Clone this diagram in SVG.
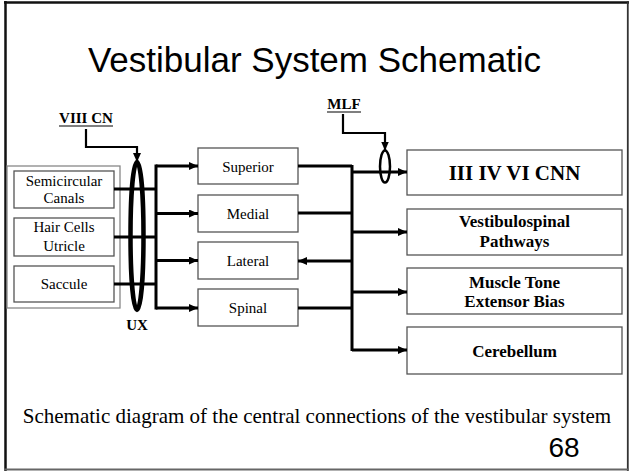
<svg xmlns="http://www.w3.org/2000/svg" width="629" height="471" viewBox="0 0 629 471">
<style>
.box{fill:#fff;stroke:#555;stroke-width:1.3}
.t{font-family:"Liberation Serif","Times New Roman",serif;font-size:15px;text-anchor:middle;fill:#000}
.b{font-family:"Liberation Serif","Times New Roman",serif;font-size:17px;font-weight:bold;text-anchor:middle;fill:#000}
.big{font-size:21px}
.lbl{font-family:"Liberation Serif","Times New Roman",serif;font-size:15px;font-weight:bold;text-anchor:middle;fill:#000}
.w{fill:none;stroke:#000;stroke-width:3}
.thin{fill:none;stroke:#000;stroke-width:2.2}
</style>
<defs>
<marker id="ah" markerUnits="userSpaceOnUse" markerWidth="10" markerHeight="10" refX="9" refY="4" orient="auto">
<path d="M0,0 L9,4 L0,8 z" fill="#000"/>
</marker>
</defs>
<rect x="0" y="0" width="629" height="471" fill="#fff"/>
<line x1="4" y1="2.5" x2="629" y2="2.5" stroke="#111" stroke-width="2.5"/>
<line x1="5.5" y1="1" x2="5.5" y2="471" stroke="#111" stroke-width="2.5"/>
<line x1="627.8" y1="1" x2="627.8" y2="471" stroke="#333" stroke-width="1.8"/>
<line x1="4" y1="469.5" x2="629" y2="469.5" stroke="#666" stroke-width="1.8"/>

<text x="314.5" y="72" font-family="'Liberation Sans',Arial,sans-serif" font-size="35" text-anchor="middle">Vestibular System Schematic</text>

<g id="receptors-group">
<rect x="7" y="166" width="113" height="142" fill="none" stroke="#888" stroke-width="1.3"/>
</g>
<g id="semicircular">
<rect class="box" x="14" y="171" width="100" height="37"/>
<text class="t" x="64" y="186">Semicircular</text>
<text class="t" x="64" y="203">Canals</text>
</g>
<g id="utricle">
<rect class="box" x="14" y="218" width="100" height="38"/>
<text class="t" x="64" y="232">Hair Cells</text>
<text class="t" x="64" y="251">Utricle</text>
</g>
<g id="saccule">
<rect class="box" x="14" y="266" width="100" height="36"/>
<text class="t" x="64" y="289">Saccule</text>
</g>

<g id="superior">
<rect class="box" x="198" y="148" width="100" height="36"/>
<text class="t" x="248" y="172">Superior</text>
</g>
<g id="medial">
<rect class="box" x="198" y="195" width="100" height="37"/>
<text class="t" x="248" y="219">Medial</text>
</g>
<g id="lateral">
<rect class="box" x="198" y="242" width="100" height="37"/>
<text class="t" x="248" y="266">Lateral</text>
</g>
<g id="spinal">
<rect class="box" x="198" y="289" width="100" height="37"/>
<text class="t" x="248" y="313">Spinal</text>
</g>

<g id="cnn">
<rect class="box" x="407" y="150" width="215" height="45"/>
<text class="b big" x="514.5" y="179.5">III IV VI CNN</text>
</g>
<g id="vestibulospinal">
<rect class="box" x="407" y="209" width="215" height="46"/>
<text class="b" x="514.5" y="227">Vestibulospinal</text>
<text class="b" x="514.5" y="246.5">Pathways</text>
</g>
<g id="muscle">
<rect class="box" x="407" y="268" width="215" height="46"/>
<text class="b" x="514.5" y="288">Muscle Tone</text>
<text class="b" x="514.5" y="306.5">Extensor Bias</text>
</g>
<g id="cerebellum">
<rect class="box" x="407" y="327" width="215" height="47"/>
<text class="b" x="514.5" y="357">Cerebellum</text>
</g>

<g id="viii-cn">
<text class="lbl" x="86" y="123">VIII CN</text>
<line x1="59" y1="126" x2="113" y2="126" stroke="#000" stroke-width="1.1"/>
</g>
<g id="mlf">
<text class="lbl" x="344" y="109">MLF</text>
<line x1="327" y1="112" x2="361" y2="112" stroke="#000" stroke-width="1.1"/>
</g>
<g id="ux">
<text class="lbl" x="137" y="330">UX</text>
</g>

<g id="connectors">
<path class="w" d="M114,189 H156 M114,237 H156 M114,284 H156"/>
<ellipse cx="137" cy="236" rx="6.5" ry="74" fill="none" stroke="#000" stroke-width="4.5"/>
<path class="w" d="M156,164.5 V309.5"/>
<path class="w" d="M156,166 H198" marker-end="url(#ah)"/>
<path class="w" d="M156,213.5 H198" marker-end="url(#ah)"/>
<path class="w" d="M156,260.5 H198" marker-end="url(#ah)"/>
<path class="w" d="M156,308 H198" marker-end="url(#ah)"/>
<path class="w" d="M298,166 H352 M298,213 H352 M298,308 H352"/>
<path class="w" d="M352,165 V351"/>
<path class="w" d="M352,261 H298" marker-end="url(#ah)"/>
<path class="w" d="M352,172 H407" marker-end="url(#ah)"/>
<path class="w" d="M352,232 H407" marker-end="url(#ah)"/>
<path class="w" d="M352,292 H407" marker-end="url(#ah)"/>
<path class="w" d="M352,350 H407" marker-end="url(#ah)"/>
<ellipse cx="385" cy="166.5" rx="5" ry="16" fill="none" stroke="#000" stroke-width="2.5"/>
<path class="thin" d="M86,129 V147 H137 V162" marker-end="url(#ah)"/>
<path class="thin" d="M343,114 V133 H385 V150.5" marker-end="url(#ah)"/>
</g>

<text x="317" y="423" font-family="'Liberation Serif','Times New Roman',serif" font-size="21" text-anchor="middle">Schematic diagram of the central connections of the vestibular system</text>
<text x="564" y="457" font-family="'Liberation Sans',Arial,sans-serif" font-size="28" text-anchor="middle">68</text>
</svg>
